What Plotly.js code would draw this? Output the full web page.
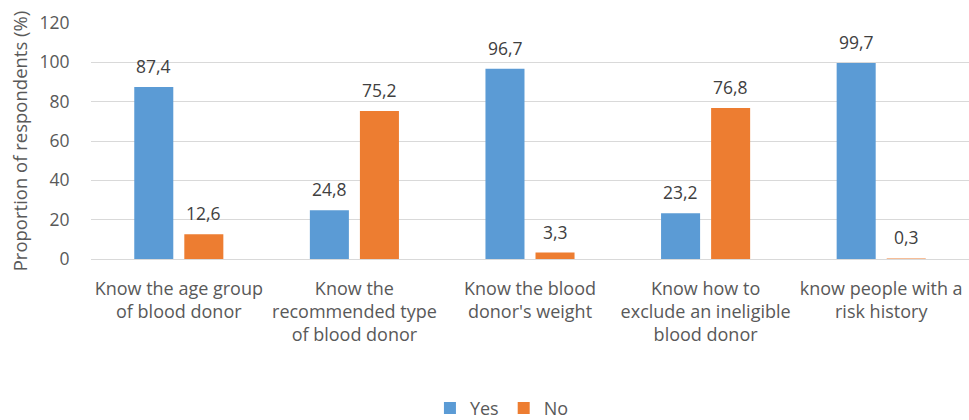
<!DOCTYPE html>
<html>
<head>
<meta charset="utf-8">
<script src="https://cdn.plot.ly/plotly-3.0.1.min.js"></script>
<style>html,body{margin:0;padding:0;background:#fff;}#chart{width:969px;height:420px;}</style>
</head>
<body>
<div id="chart"></div>
<script>
const categories = [
  "Know the age group<br>of blood donor",
  "Know the<br>recommended type<br>of blood donor",
  "Know the blood<br>donor's weight",
  "Know how to<br>exclude an ineligible<br>blood donor",
  "know people with a<br>risk history"
];
const yesValues = [87.4, 24.8, 96.7, 23.2, 99.7];
const noValues = [12.6, 75.2, 3.3, 76.8, 0.3];
const yTicks = [0, 20, 40, 60, 80, 100, 120];

const FONT = "Open Sans, DejaVu Sans, sans-serif";
const GRAY = "#595959";

const fmt = v => v.toFixed(1).replace(".", ",");

const traces = [
  {type: "bar", name: "Yes", x: categories, y: yesValues, marker: {color: "#5B9BD5"}, hoverinfo: "none"},
  {type: "bar", name: "No", x: categories, y: noValues, marker: {color: "#ED7D31"}, hoverinfo: "none"}
];

const annotations = [];
[[yesValues, 0], [noValues, 1]].forEach(([vals, idx]) => {
  vals.forEach((v, i) => {
    annotations.push({
      x: i, y: v, xref: "x", yref: "y",
      text: fmt(v), showarrow: false,
      xshift: idx === 0 ? -25 : 25,
      yanchor: "bottom", yshift: 7,
      font: {family: FONT, size: 17.5, color: "#404040"}
    });
  });
});

const layout = {
  width: 969, height: 420,
  margin: {l: 91, r: 0, t: 23, b: 161},
  paper_bgcolor: "#fff", plot_bgcolor: "#fff",
  barmode: "group", bargap: 0.43, bargroupgap: 0.22,
  font: {family: FONT, size: 18, color: GRAY},
  xaxis: {
    type: "category", automargin: false,
    tickfont: {family: FONT, size: 18, color: GRAY},
    ticks: "outside", ticklen: 13, tickcolor: "rgba(0,0,0,0)",
    showline: false, showgrid: false
  },
  yaxis: {
    range: [0, 120], tickvals: yTicks, ticktext: yTicks.map(String), automargin: false,
    showgrid: true, gridcolor: "#d9d9d9", gridwidth: 1,
    zeroline: true, zerolinecolor: "#d9d9d9", zerolinewidth: 1,
    ticks: "outside", ticklen: 17, tickcolor: "rgba(0,0,0,0)",
    tickfont: {family: FONT, size: 17.5, color: GRAY},
    title: {text: "Proportion of respondents (%)", font: {family: FONT, size: 18.5, color: GRAY}, standoff: 6}
  },
  showlegend: true,
  legend: {
    orientation: "h", xref: "container", yref: "container",
    x: 0.518, xanchor: "center", y: 0.028, yanchor: "middle",
    font: {family: FONT, size: 18, color: GRAY},
    itemwidth: 30, traceorder: "normal"
  },
  annotations: annotations
};

Plotly.newPlot("chart", traces, layout, {displayModeBar: false, staticPlot: true});
</script>
</body>
</html>
